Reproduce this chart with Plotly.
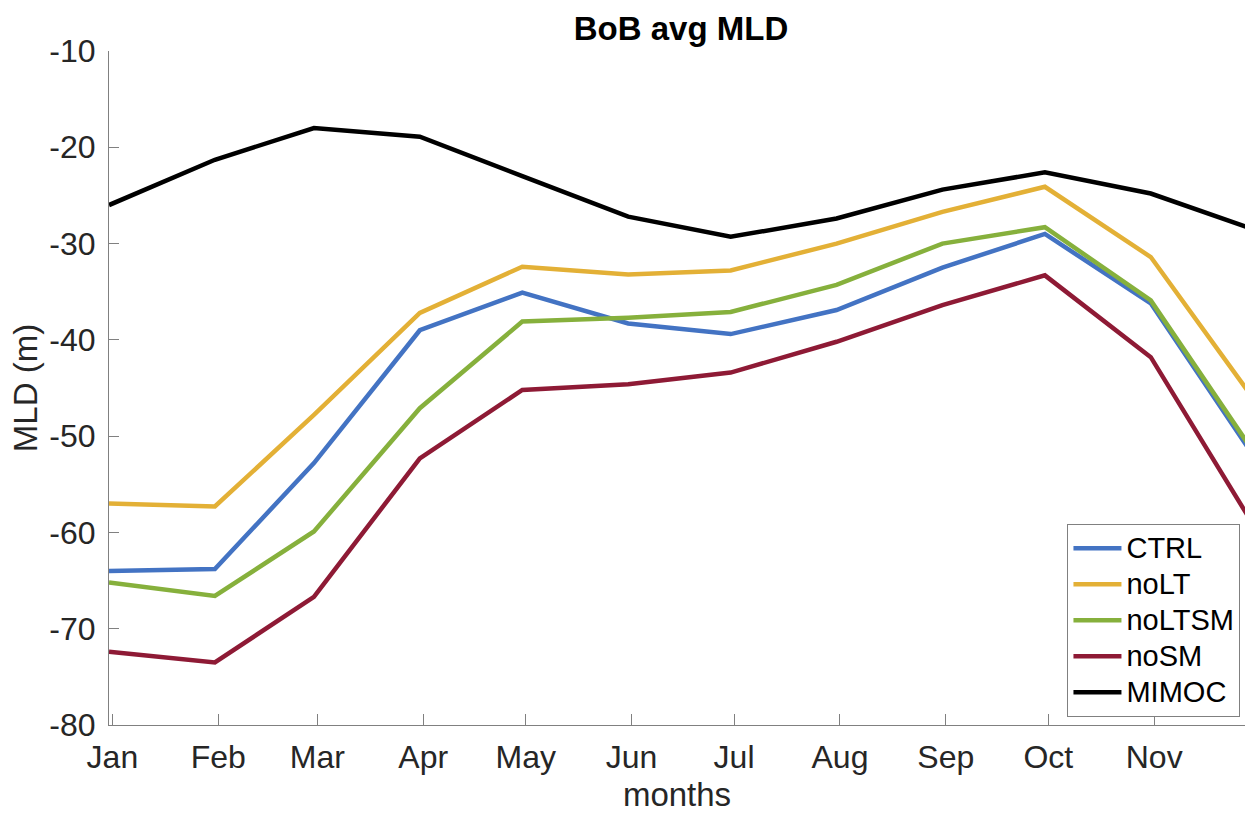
import plotly.graph_objects as go

# Monthly mean mixed-layer depth (m, negative downward) for the Bay of Bengal
month_dates = ["2020-01-15", "2020-02-15", "2020-03-15", "2020-04-15", "2020-05-15", "2020-06-15",
               "2020-07-15", "2020-08-15", "2020-09-15", "2020-10-15", "2020-11-15", "2020-12-15"]
tick_dates = ["2020-01-16", "2020-02-16", "2020-03-16", "2020-04-16", "2020-05-16", "2020-06-16",
              "2020-07-16", "2020-08-16", "2020-09-16", "2020-10-16", "2020-11-16", "2020-12-16"]
month_labels = ["Jan", "Feb", "Mar", "Apr", "May", "Jun", "Jul", "Aug", "Sep", "Oct", "Nov", "Dec"]
depth_ticks = [-80, -70, -60, -50, -40, -30, -20, -10]
depth_labels = ["-80", "-70", "-60", "-50", "-40", "-30", "-20", "-10"]

ctrl = [-64.0, -63.8, -52.8, -39.0, -35.1, -38.3, -39.4, -36.9, -32.5, -29.0, -36.2, -52.0]
no_lt = [-57.0, -57.3, -47.8, -37.2, -32.4, -33.2, -32.8, -30.0, -26.7, -24.1, -31.4, -46.1]
no_ltsm = [-65.2, -66.6, -59.9, -47.1, -38.1, -37.7, -37.1, -34.3, -30.0, -28.3, -35.9, -51.6]
no_sm = [-72.4, -73.5, -66.7, -52.3, -45.2, -44.6, -43.4, -40.2, -36.4, -33.3, -41.8, -59.2]
mimoc = [-26.0, -21.3, -18.0, -18.9, -23.0, -27.2, -29.3, -27.4, -24.4, -22.6, -24.8, -28.5]

series = [
    ("CTRL", ctrl, "#4373C3"),
    ("noLT", no_lt, "#E3B036"),
    ("noLTSM", no_ltsm, "#86B03C"),
    ("noSM", no_sm, "#8E1A35"),
    ("MIMOC", mimoc, "#000000"),
]

FONT = "Liberation Sans, Arial, Helvetica, sans-serif"
TEXT = "#262626"
AXIS = "#808080"

fig = go.Figure()
for name, values, color in series:
    fig.add_trace(go.Scatter(
        x=month_dates, y=values, mode="lines",
        # legend text drawn a little larger than the row spacing font
        name=f'<span style="font-size:29px">{name}</span>',
        line=dict(color=color, width=4.5),
    ))

fig.update_layout(
    width=1245, height=813,
    margin=dict(l=109, r=0, t=51, b=88, autoexpand=False),
    paper_bgcolor="white", plot_bgcolor="white",
    font=dict(family=FONT, color=TEXT, size=32),
    title=dict(
        text="<b>BoB avg MLD</b>", x=0.547, xref="container", xanchor="center",
        y=1 - 28 / 813, yref="container", yanchor="middle",
        font=dict(family=FONT, size=33, color="#000000"),
    ),
    xaxis=dict(
        type="date",
        range=["2020-01-15", "2020-12-12 14:00"],
        tickmode="array", tickvals=tick_dates, ticktext=month_labels,
        ticks="inside", ticklen=11, tickwidth=1, tickcolor=AXIS,
        showline=True, linecolor=AXIS, linewidth=1,
        showgrid=False, zeroline=False, mirror=False,
        tickfont=dict(size=32, color=TEXT),
        ticklabelstandoff=4,
        title=dict(text="months", standoff=14, font=dict(size=33, color=TEXT)),
    ),
    yaxis=dict(
        range=[-80, -10],
        tickmode="array", tickvals=depth_ticks, ticktext=depth_labels,
        ticks="inside", ticklen=10, tickwidth=1, tickcolor=AXIS,
        showline=True, linecolor=AXIS, linewidth=1,
        showgrid=False, zeroline=False, mirror=False,
        tickfont=dict(size=32, color=TEXT),
        ticklabelstandoff=6,
        title=dict(text="MLD (m)", standoff=1, font=dict(size=33, color=TEXT)),
    ),
    legend=dict(
        x=0.996, xanchor="right", y=0.298, yanchor="top",
        bgcolor="white", bordercolor=AXIS, borderwidth=1,
        font=dict(family=FONT, size=25.4, color="#000000"),
        itemwidth=48, tracegroupgap=0,
    ),
    showlegend=True,
)

fig.write_html("out.html")
